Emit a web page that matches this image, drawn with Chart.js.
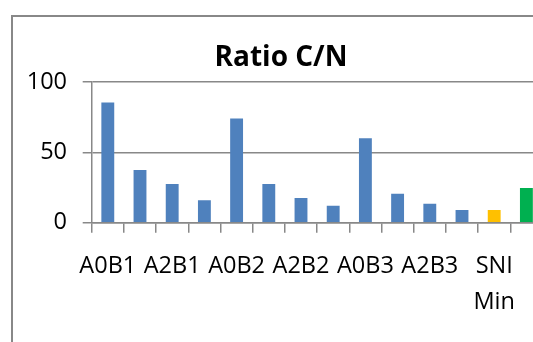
<!DOCTYPE html>
<html>
<head>
<meta charset="utf-8">
<script src="https://cdn.jsdelivr.net/npm/chart.js@4/dist/chart.umd.min.js"></script>
<style>
  html, body { margin: 0; padding: 0; background: #fff; width: 533px; height: 342px; overflow: hidden; }
  #frame { position: absolute; left: 11px; top: 15px; width: 700px; height: 500px; border: 2px solid #888; }
  #wrap { position: absolute; left: 0; top: 0; width: 560px; height: 342px; }
</style>
</head>
<body>
<div id="frame"></div>
<div id="wrap"><canvas id="c"></canvas></div>
<script>
const chartTitle = 'Ratio C/N';
const categories = ['A0B1', 'A1B1', 'A2B1', 'A3B1', 'A0B2', 'A1B2', 'A2B2', 'A3B2', 'A0B3', 'A1B3', 'A2B3', 'A3B3', 'SNI Min', 'SNI Max'];
const ratioValues = [85.5, 37.5, 27.5, 16, 74, 27.5, 17.5, 12, 60, 20.5, 13.5, 9, 9, 24.7];
const yTicks = [0, 50, 100];
const barColors = ['#4F81BD', '#4F81BD', '#4F81BD', '#4F81BD', '#4F81BD', '#4F81BD', '#4F81BD', '#4F81BD', '#4F81BD', '#4F81BD', '#4F81BD', '#4F81BD', '#FFC000', '#00B050'];

const gridGray = '#888888';
const fontFamily = "'Open Sans', sans-serif";

new Chart(document.getElementById('c'), {
  type: 'bar',
  data: {
    labels: categories,
    datasets: [{
      data: ratioValues,
      backgroundColor: barColors,
      borderWidth: 0,
      categoryPercentage: 1,
      barPercentage: 0.4
    }]
  },
  options: {
    responsive: true,
    maintainAspectRatio: false,
    animation: false,
    devicePixelRatio: 1,
    layout: { padding: { left: 19.5, right: 17.5, top: 0, bottom: 0 } },
    plugins: {
      legend: { display: false },
      tooltip: { enabled: false },
      title: {
        display: true,
        text: chartTitle,
        color: '#000',
        font: { family: fontFamily, size: 28, weight: 'bold', lineHeight: 1.2 },
        padding: { top: 41.5, bottom: 6.9 }
      }
    },
    scales: {
      x: {
        offset: true,
        grid: { display: true, drawOnChartArea: false, drawTicks: true, tickLength: 10, color: gridGray, lineWidth: 1.5, offset: true },
        border: { display: true, color: gridGray, width: 1.5 },
        ticks: {
          autoSkip: false,
          maxRotation: 0,
          minRotation: 0,
          color: '#000',
          padding: 16,
          font: { family: fontFamily, size: 23.5, lineHeight: 1.52 },
          callback: function (value, index) {
            if (index % 2 !== 0) return '';
            const lbl = this.getLabelForValue(value);
            return lbl.indexOf(' ') >= 0 ? lbl.split(' ') : lbl;
          }
        },
        afterFit: function (scale) { scale.height = 342 - 222.7; }
      },
      y: {
        min: yTicks[0],
        max: yTicks[yTicks.length - 1],
        afterBuildTicks: function (scale) { scale.ticks = yTicks.map(v => ({ value: v })); },
        grid: { color: gridGray, lineWidth: 1.5, tickLength: 9, drawTicks: true },
        border: { display: true, color: gridGray, width: 1.5 },
        ticks: {
          color: '#000',
          padding: 15.7,
          font: { family: fontFamily, size: 23.5 }
        },
        afterFit: function (scale) { scale.width = 91.7 - 19.5; }
      }
    }
  }
});
</script>
</body>
</html>
